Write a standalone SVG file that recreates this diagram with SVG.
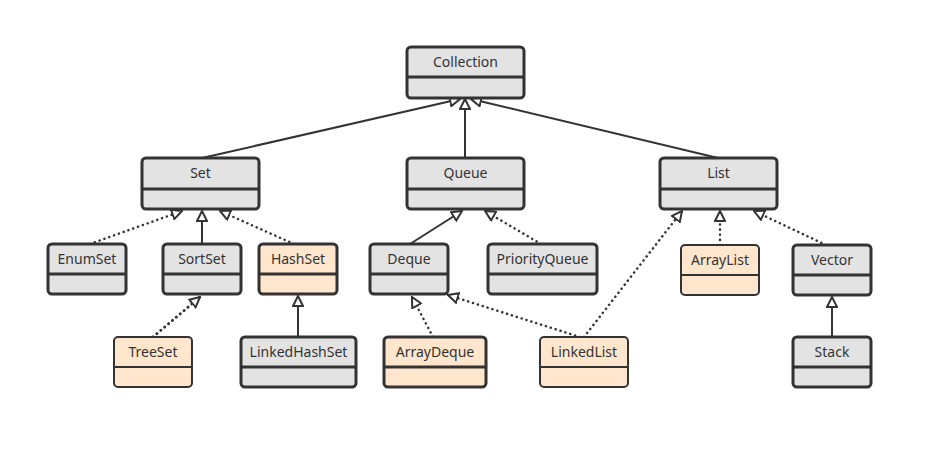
<svg xmlns="http://www.w3.org/2000/svg" width="932" height="449" viewBox="0 0 932 449">
<style>
.box{stroke:#333;stroke-width:3}
.thin{stroke-width:2}
.g{fill:#e3e3e3}
.p{fill:#ffe6cc}
.div{stroke:#333;stroke-width:3}
text{font-family:"Noto Sans","Open Sans","DejaVu Sans",sans-serif;font-size:14px;fill:#333;text-anchor:middle}
.s{stroke:#333;stroke-width:2;fill:none}
.d{stroke:#333;stroke-width:2.5;fill:none;stroke-dasharray:0.1 5;stroke-linecap:round}
</style>
<defs>
<marker id="tri" viewBox="0 0 12 12" refX="11" refY="6" markerWidth="12" markerHeight="12" markerUnits="userSpaceOnUse" orient="auto">
<path d="M1,1 L11,6 L1,11 Z" fill="#fff" stroke="#333" stroke-width="2" stroke-linejoin="miter"/>
</marker>
</defs>
<rect width="932" height="449" fill="#fff"/>
<g id="connectors">
<line class="s" x1="202" y1="158" x2="460" y2="99" marker-end="url(#tri)"/>
<line class="s" x1="465" y1="158" x2="465" y2="99" marker-end="url(#tri)"/>
<line class="s" x1="718" y1="158" x2="471" y2="99" marker-end="url(#tri)"/>
<line class="d" x1="90" y1="244" x2="182" y2="211" marker-end="url(#tri)"/>
<line class="s" x1="202" y1="244" x2="202" y2="211" marker-end="url(#tri)"/>
<line class="d" x1="294" y1="244" x2="220" y2="211" marker-end="url(#tri)"/>
<line class="d" x1="153" y1="337" x2="200" y2="297" marker-end="url(#tri)" style="stroke-width:3"/>
<line class="s" x1="298" y1="337" x2="298" y2="296" marker-end="url(#tri)"/>
<line class="s" x1="410" y1="244" x2="462" y2="211" marker-end="url(#tri)"/>
<line class="d" x1="541" y1="244" x2="485" y2="211" marker-end="url(#tri)"/>
<line class="d" x1="433" y1="337" x2="412" y2="297" marker-end="url(#tri)"/>
<line class="d" x1="580" y1="337" x2="448" y2="295" marker-end="url(#tri)"/>
<line class="d" x1="584" y1="337" x2="682" y2="211" marker-end="url(#tri)"/>
<line class="d" x1="720" y1="245" x2="720" y2="211" marker-end="url(#tri)"/>
<line class="d" x1="826" y1="245" x2="754" y2="211" marker-end="url(#tri)"/>
<line class="s" x1="832" y1="337" x2="832" y2="297" marker-end="url(#tri)"/>
</g>
<g id="Collection"><rect class="box g" x="407" y="47" width="117" height="51" rx="4"/><line class="div" x1="407" y1="77" x2="524" y2="77"/><text x="465.5" y="67">Collection</text></g>
<g id="Set"><rect class="box g" x="142" y="158" width="117" height="51" rx="4"/><line class="div" x1="142" y1="189" x2="259" y2="189"/><text x="200.5" y="178">Set</text></g>
<g id="Queue"><rect class="box g" x="407" y="158" width="117" height="51" rx="4"/><line class="div" x1="407" y1="189" x2="524" y2="189"/><text x="465.5" y="178">Queue</text></g>
<g id="List"><rect class="box g" x="660" y="158" width="117" height="51" rx="4"/><line class="div" x1="660" y1="189" x2="777" y2="189"/><text x="718.5" y="178">List</text></g>
<g id="EnumSet"><rect class="box g" x="48" y="244" width="78" height="50" rx="4"/><line class="div" x1="48" y1="274" x2="126" y2="274"/><text x="87" y="264">EnumSet</text></g>
<g id="SortSet"><rect class="box g" x="163" y="244" width="78" height="50" rx="4"/><line class="div" x1="163" y1="274" x2="241" y2="274"/><text x="202" y="264">SortSet</text></g>
<g id="HashSet"><rect class="box p" x="259" y="244" width="78" height="50" rx="4"/><line class="div" x1="259" y1="274" x2="337" y2="274"/><text x="298" y="264">HashSet</text></g>
<g id="Deque"><rect class="box g" x="370" y="244" width="78" height="50" rx="4"/><line class="div" x1="370" y1="274" x2="448" y2="274"/><text x="409" y="264">Deque</text></g>
<g id="PriorityQueue"><rect class="box g" x="488" y="244" width="109" height="50" rx="4"/><line class="div" x1="488" y1="274" x2="597" y2="274"/><text x="542.5" y="264">PriorityQueue</text></g>
<g id="ArrayList"><rect class="box thin p" x="681" y="245" width="78" height="50" rx="4"/><line class="div" style="stroke-width:2" x1="681" y1="275" x2="759" y2="275"/><text x="720" y="265">ArrayList</text></g>
<g id="Vector"><rect class="box g" x="793" y="245" width="78" height="50" rx="4"/><line class="div" x1="793" y1="275" x2="871" y2="275"/><text x="832" y="265">Vector</text></g>
<g id="TreeSet"><rect class="box thin p" x="114" y="337" width="78" height="50" rx="4"/><line class="div" style="stroke-width:2" x1="114" y1="367" x2="192" y2="367"/><text x="153" y="357">TreeSet</text></g>
<g id="LinkedHashSet"><rect class="box g" x="241" y="337" width="115" height="50" rx="4"/><line class="div" x1="241" y1="367" x2="356" y2="367"/><text x="298.5" y="357">LinkedHashSet</text></g>
<g id="ArrayDeque"><rect class="box p" x="384" y="337" width="102" height="50" rx="4"/><line class="div" x1="384" y1="367" x2="486" y2="367"/><text x="435" y="357">ArrayDeque</text></g>
<g id="LinkedList"><rect class="box thin p" x="540" y="337" width="88" height="50" rx="4"/><line class="div" style="stroke-width:2" x1="540" y1="367" x2="628" y2="367"/><text x="584" y="357">LinkedList</text></g>
<g id="Stack"><rect class="box g" x="793" y="337" width="78" height="50" rx="4"/><line class="div" x1="793" y1="367" x2="871" y2="367"/><text x="832" y="357">Stack</text></g>
</svg>
